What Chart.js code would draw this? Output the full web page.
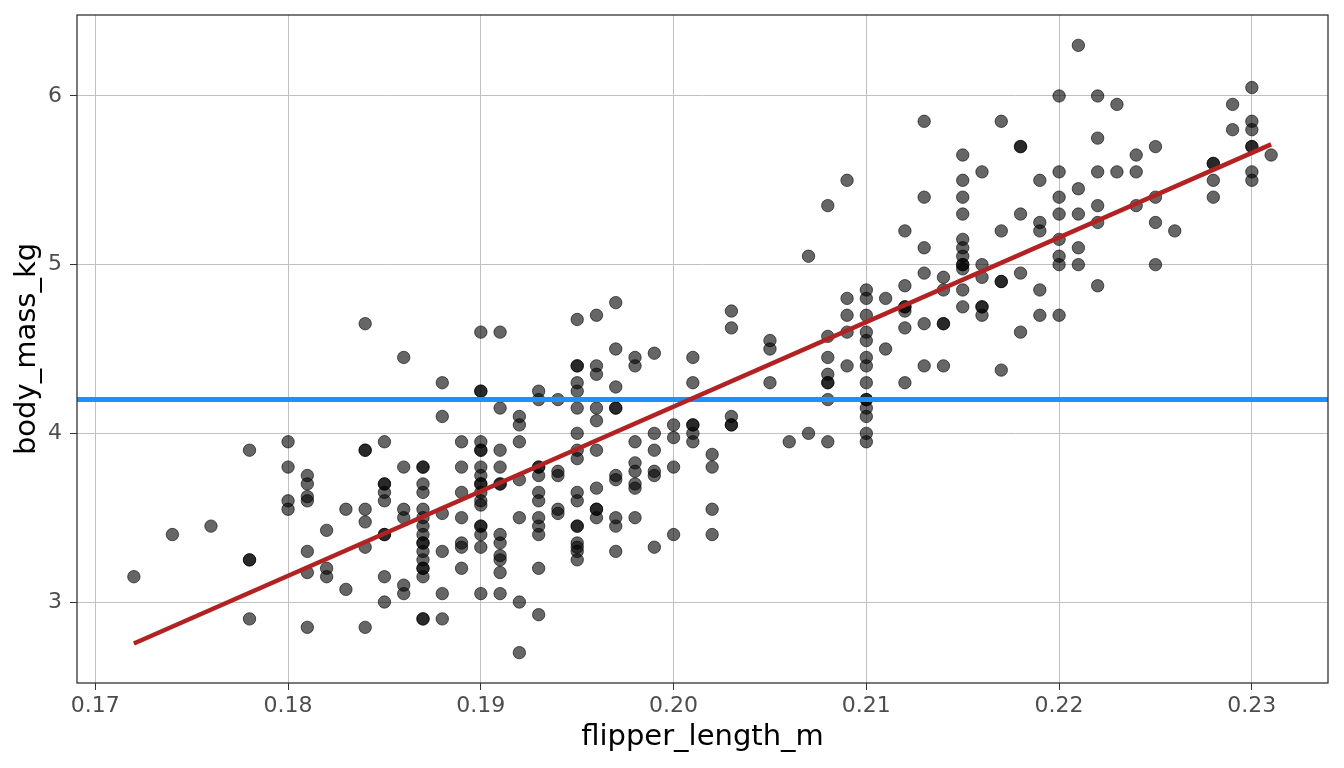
<!DOCTYPE html>
<html>
<head>
<meta charset="utf-8">
<script src="https://cdn.jsdelivr.net/npm/chart.js@4.4.1/dist/chart.umd.min.js"></script>
<style>
  html, body { margin: 0; padding: 0; background: #ffffff; }
  #wrap { width: 1344px; height: 768px; }
</style>
</head>
<body>
<div id="wrap"><canvas id="penguinChart"></canvas></div>
<script>
// flipper length (m) and body mass (kg), one line per flipper-length column
const flipper_length_m = [
  0.172,
  0.174,
  0.176,
  0.178, 0.178, 0.178, 0.178,
  0.180, 0.180, 0.180, 0.180,
  0.181, 0.181, 0.181, 0.181, 0.181, 0.181, 0.181,
  0.182, 0.182, 0.182,
  0.183, 0.183,
  0.184, 0.184, 0.184, 0.184, 0.184, 0.184, 0.184,
  0.185, 0.185, 0.185, 0.185, 0.185, 0.185, 0.185, 0.185, 0.185,
  0.186, 0.186, 0.186, 0.186, 0.186, 0.186,
  0.187, 0.187, 0.187, 0.187, 0.187, 0.187, 0.187, 0.187, 0.187, 0.187, 0.187, 0.187, 0.187, 0.187, 0.187, 0.187, 0.187,
  0.188, 0.188, 0.188, 0.188, 0.188, 0.188,
  0.189, 0.189, 0.189, 0.189, 0.189, 0.189, 0.189,
  0.190, 0.190, 0.190, 0.190, 0.190, 0.190, 0.190, 0.190, 0.190, 0.190, 0.190, 0.190, 0.190, 0.190, 0.190, 0.190, 0.190, 0.190,
  0.191, 0.191, 0.191, 0.191, 0.191, 0.191, 0.191, 0.191, 0.191, 0.191, 0.191, 0.191,
  0.192, 0.192, 0.192, 0.192, 0.192, 0.192, 0.192,
  0.193, 0.193, 0.193, 0.193, 0.193, 0.193, 0.193, 0.193, 0.193, 0.193, 0.193, 0.193,
  0.194, 0.194, 0.194, 0.194, 0.194,
  0.195, 0.195, 0.195, 0.195, 0.195, 0.195, 0.195, 0.195, 0.195, 0.195, 0.195, 0.195, 0.195, 0.195, 0.195, 0.195, 0.195,
  0.196, 0.196, 0.196, 0.196, 0.196, 0.196, 0.196, 0.196, 0.196, 0.196,
  0.197, 0.197, 0.197, 0.197, 0.197, 0.197, 0.197, 0.197, 0.197, 0.197,
  0.198, 0.198, 0.198, 0.198, 0.198, 0.198, 0.198, 0.198,
  0.199, 0.199, 0.199, 0.199, 0.199, 0.199,
  0.200, 0.200, 0.200, 0.200,
  0.201, 0.201, 0.201, 0.201, 0.201, 0.201,
  0.202, 0.202, 0.202, 0.202,
  0.203, 0.203, 0.203, 0.203, 0.203,
  0.205, 0.205, 0.205,
  0.206,
  0.207, 0.207,
  0.208, 0.208, 0.208, 0.208, 0.208, 0.208, 0.208, 0.208,
  0.209, 0.209, 0.209, 0.209, 0.209,
  0.210, 0.210, 0.210, 0.210, 0.210, 0.210, 0.210, 0.210, 0.210, 0.210, 0.210, 0.210, 0.210, 0.210,
  0.211, 0.211,
  0.212, 0.212, 0.212, 0.212, 0.212, 0.212, 0.212,
  0.213, 0.213, 0.213, 0.213, 0.213, 0.213,
  0.214, 0.214, 0.214, 0.214, 0.214,
  0.215, 0.215, 0.215, 0.215, 0.215, 0.215, 0.215, 0.215, 0.215, 0.215, 0.215, 0.215,
  0.216, 0.216, 0.216, 0.216, 0.216, 0.216,
  0.217, 0.217, 0.217, 0.217, 0.217,
  0.218, 0.218, 0.218, 0.218, 0.218,
  0.219, 0.219, 0.219, 0.219, 0.219,
  0.220, 0.220, 0.220, 0.220, 0.220, 0.220, 0.220, 0.220,
  0.221, 0.221, 0.221, 0.221, 0.221,
  0.222, 0.222, 0.222, 0.222, 0.222, 0.222,
  0.223, 0.223,
  0.224, 0.224, 0.224,
  0.225, 0.225, 0.225, 0.225,
  0.226,
  0.228, 0.228, 0.228, 0.228,
  0.229, 0.229,
  0.230, 0.230, 0.230, 0.230, 0.230, 0.230, 0.230,
  0.231
];
const body_mass_kg = [
  3.15,
  3.4,
  3.45,
  3.9, 3.25, 3.25, 2.9,
  3.95, 3.8, 3.6, 3.55,
  3.75, 3.7, 3.625, 3.6, 3.3, 3.175, 2.85,
  3.425, 3.2, 3.15,
  3.55, 3.075,
  4.65, 3.9, 3.9, 3.55, 3.475, 3.325, 2.85,
  3.95, 3.7, 3.7, 3.65, 3.6, 3.4, 3.4, 3.15, 3.0,
  4.45, 3.8, 3.55, 3.5, 3.1, 3.05,
  3.8, 3.8, 3.7, 3.65, 3.55, 3.5, 3.45, 3.4, 3.35, 3.35, 3.3, 3.25, 3.2, 3.2, 3.15, 2.9, 2.9,
  4.3, 4.1, 3.525, 3.3, 3.05, 2.9,
  3.95, 3.8, 3.65, 3.5, 3.35, 3.325, 3.2,
  4.6, 4.25, 4.25, 3.95, 3.9, 3.9, 3.8, 3.75, 3.7, 3.7, 3.65, 3.6, 3.575, 3.45, 3.45, 3.4, 3.325, 3.05,
  4.6, 4.15, 3.9, 3.8, 3.7, 3.7, 3.4, 3.35, 3.275, 3.25, 3.175, 3.05,
  4.1, 4.05, 3.95, 3.725, 3.5, 3.0, 2.7,
  4.25, 4.2, 3.8, 3.8, 3.75, 3.65, 3.6, 3.5, 3.45, 3.4, 3.2, 2.925,
  4.2, 3.775, 3.75, 3.55, 3.525,
  4.675, 4.4, 4.4, 4.3, 4.25, 4.15, 4.0, 3.9, 3.85, 3.65, 3.6, 3.45, 3.45, 3.35, 3.325, 3.3, 3.25,
  4.7, 4.4, 4.35, 4.15, 4.075, 3.9, 3.675, 3.55, 3.55, 3.5,
  4.775, 4.5, 4.275, 4.15, 4.15, 3.75, 3.725, 3.5, 3.45, 3.3,
  4.45, 4.4, 3.95, 3.825, 3.775, 3.7, 3.675, 3.5,
  4.475, 4.0, 3.9, 3.775, 3.75, 3.325,
  4.05, 3.975, 3.8, 3.4,
  4.45, 4.3, 4.05, 4.05, 4.0, 3.95,
  3.875, 3.8, 3.55, 3.4,
  4.725, 4.625, 4.1, 4.05, 4.05,
  4.55, 4.5, 4.3,
  3.95,
  5.05, 4.0,
  5.35, 4.575, 4.45, 4.35, 4.3, 4.3, 4.2, 3.95,
  5.5, 4.8, 4.7, 4.6, 4.4,
  4.85, 4.8, 4.7, 4.6, 4.55, 4.45, 4.4, 4.3, 4.2, 4.2, 4.15, 4.1, 4.0, 3.95,
  4.8, 4.5,
  5.2, 4.875, 4.75, 4.75, 4.725, 4.625, 4.3,
  5.85, 5.4, 5.1, 4.95, 4.65, 4.4,
  4.925, 4.85, 4.65, 4.65, 4.4,
  5.65, 5.5, 5.4, 5.3, 5.15, 5.1, 5.05, 5.0, 5.0, 4.975, 4.85, 4.75,
  5.55, 5.0, 4.925, 4.75, 4.75, 4.7,
  5.85, 5.2, 4.9, 4.9, 4.375,
  5.7, 5.7, 5.3, 4.95, 4.6,
  5.5, 5.25, 5.2, 4.85, 4.7,
  6.0, 5.55, 5.4, 5.3, 5.15, 5.05, 5.0, 4.7,
  6.3, 5.45, 5.3, 5.1, 5.0,
  6.0, 5.75, 5.55, 5.35, 5.25, 4.875,
  5.95, 5.55,
  5.65, 5.55, 5.35,
  5.7, 5.4, 5.25, 5.0,
  5.2,
  5.6, 5.6, 5.5, 5.4,
  5.95, 5.8,
  6.05, 5.85, 5.8, 5.7, 5.7, 5.55, 5.5,
  5.65
];
const xTicks = [0.17, 0.18, 0.19, 0.20, 0.21, 0.22, 0.23];
const yTicks = [3, 4, 5, 6];
const meanMass = 4.2; // horizontal reference line

// straight-line least squares fit
const n = Math.min(flipper_length_m.length, body_mass_kg.length);
let mx = 0, my = 0;
for (let i = 0; i < n; i++) { mx += flipper_length_m[i]; my += body_mass_kg[i]; }
mx /= n; my /= n;
let sxy = 0, sxx = 0;
for (let i = 0; i < n; i++) {
  const dx = flipper_length_m[i] - mx;
  sxy += dx * (body_mass_kg[i] - my);
  sxx += dx * dx;
}
const slope = sxy / sxx;
const intercept = my - slope * mx;

const xLo = Math.min(...flipper_length_m), xHi = Math.max(...flipper_length_m);
const yLo = Math.min(...body_mass_kg), yHi = Math.max(...body_mass_kg);
const xPad = (xHi - xLo) * 0.05, yPad = (yHi - yLo) * 0.05;
const xMin = xLo - xPad, xMax = xHi + xPad;

const points = [];
for (let i = 0; i < n; i++) points.push({ x: flipper_length_m[i], y: body_mass_kg[i] });

const panelBorder = {
  id: 'panelBorder',
  afterDraw(chart) {
    const { ctx, chartArea: a } = chart;
    ctx.save();
    ctx.strokeStyle = '#333333';
    ctx.lineWidth = 1.3;
    ctx.strokeRect(a.left, a.top, a.right - a.left, a.bottom - a.top);
    ctx.restore();
  }
};

const font = 'DejaVu Sans';

new Chart(document.getElementById('penguinChart').getContext('2d'), {
  type: 'scatter',
  data: {
    datasets: [
      {
        label: 'penguins',
        data: points,
        backgroundColor: 'rgba(0, 0, 0, 0.6)',
        borderColor: 'rgba(0, 0, 0, 0.6)',
        borderWidth: 1,
        pointRadius: 6.2,
        order: 3
      },
      {
        type: 'line',
        label: 'mean',
        data: [{ x: xMin, y: meanMass }, { x: xMax, y: meanMass }],
        borderColor: '#1E90FF',
        borderWidth: 5,
        pointRadius: 0,
        showLine: true,
        order: 2
      },
      {
        type: 'line',
        label: 'fit',
        data: [{ x: xLo, y: intercept + slope * xLo }, { x: xHi, y: intercept + slope * xHi }],
        borderColor: '#B22222',
        borderWidth: 4.5,
        pointRadius: 0,
        showLine: true,
        order: 1
      }
    ]
  },
  options: {
    responsive: true,
    maintainAspectRatio: false,
    animation: false,
    layout: { padding: { top: 15, right: 16, left: 0, bottom: 0 } },
    plugins: { legend: { display: false }, tooltip: { enabled: false } },
    scales: {
      x: {
        type: 'linear',
        min: xMin,
        max: xMax,
        afterBuildTicks: (s) => { s.ticks = xTicks.map(v => ({ value: v })); },
        afterFit: (s) => { s.height = 85; s.paddingLeft = 0; s.paddingRight = 0; },
        ticks: {
          callback: (v) => Number(v).toFixed(2),
          color: '#4D4D4D',
          font: { family: font, size: 22 },
          padding: 3,
          maxRotation: 0,
          autoSkip: false
        },
        grid: { color: '#C0C0C0', lineWidth: 1, tickLength: 7, tickColor: '#333333' },
        border: { display: false },
        title: {
          display: true,
          text: 'flipper_length_m',
          color: '#000000',
          font: { family: font, size: 29 },
          padding: { top: 0, bottom: 13 }
        }
      },
      y: {
        type: 'linear',
        min: yLo - yPad,
        max: yHi + yPad,
        afterBuildTicks: (s) => { s.ticks = yTicks.map(v => ({ value: v })); },
        afterFit: (s) => { s.width = 77; s.paddingTop = 0; s.paddingBottom = 0; },
        ticks: {
          callback: (v) => String(v),
          color: '#4D4D4D',
          font: { family: font, size: 22 },
          padding: 8
        },
        grid: { color: '#C0C0C0', lineWidth: 1, tickLength: 7, tickColor: '#333333' },
        border: { display: false },
        title: {
          display: true,
          text: 'body_mass_kg',
          color: '#000000',
          font: { family: font, size: 29 },
          padding: { top: 10, bottom: 0 }
        }
      }
    }
  },
  plugins: [panelBorder]
});
</script>
</body>
</html>
